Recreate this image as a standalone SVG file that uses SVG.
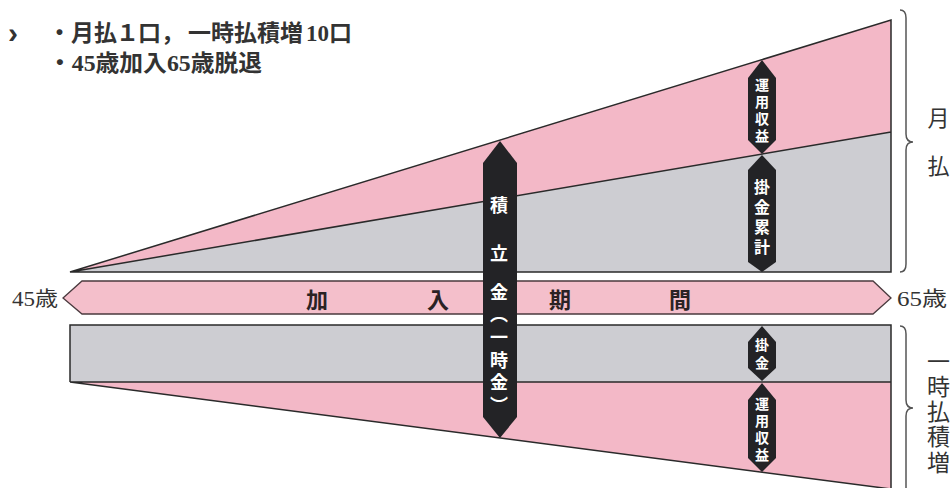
<svg xmlns="http://www.w3.org/2000/svg" width="951" height="488" viewBox="0 0 951 488">
<style>
.pink{fill:#f3b8c7}
.band{fill:#f4bfcb;stroke:#4a3a3e;stroke-width:1.3}
.gray{fill:#cdcdd2}
.edge{fill:none;stroke:#2a2a2a;stroke-width:1.5;stroke-linejoin:miter}
.bar{fill:#232326}
.bt{font-family:"Noto Sans CJK JP",sans-serif;font-weight:700;fill:#ffffff;writing-mode:vertical-rl}
.mt{font-family:"Noto Sans CJK JP",sans-serif;font-weight:700;fill:#2a2224;font-size:22px;text-anchor:middle;dominant-baseline:central}
.st{font-family:"Liberation Serif","Noto Sans CJK JP",serif;fill:#333333;dominant-baseline:central}
.vt{font-family:"Liberation Serif","Noto Sans CJK JP",serif;fill:#333333;writing-mode:vertical-rl}
.brace{fill:none;stroke:#555555;stroke-width:1.5}
</style>
<rect width="951" height="488" fill="#ffffff"/>

<g id="header">
<text class="st" x="8" y="32" style="font-family:'Liberation Sans',sans-serif;font-size:30px;font-weight:700">›</text>
<text class="st" y="33" style="font-size:23px;font-weight:700"><tspan x="48">・月払</tspan><tspan x="116">１</tspan><tspan x="138">口，</tspan><tspan x="188">一時払積増</tspan><tspan x="306">10口</tspan></text>
<text class="st" x="48" y="63" textLength="214" lengthAdjust="spacingAndGlyphs" style="font-size:23px;font-weight:700">・45歳加入65歳脱退</text>
</g>

<g id="monthly-chart">
<polygon class="pink" points="70,272 891,20 891,132"/>
<polygon class="gray" points="70,272 891,132 891,272"/>
<path class="edge" d="M70,272 L891,20 L891,272 Z M70,272 L891,132"/>
</g>

<g id="lumpsum-chart">
<rect class="gray" x="70" y="325" width="821" height="57"/>
<polygon class="pink" points="70,382 891,382 891,489"/>
<path class="edge" d="M70,382 L70,325 L891,325 L891,490 M70,382 L891,382 M70,382 L891,489"/>
</g>

<g id="period-band">
<polygon class="band" points="63,298 82,281 873,281 891,298 873,314 82,314"/>
<text class="mt" y="298"><tspan x="317">加</tspan><tspan x="438">入</tspan><tspan x="560">期</tspan><tspan x="680">間</tspan></text>
<text class="st" x="12" y="299" textLength="46" lengthAdjust="spacingAndGlyphs" style="font-size:20px">45歳</text>
<text class="st" x="897" y="299" textLength="50" lengthAdjust="spacingAndGlyphs" style="font-size:20px">65歳</text>
</g>

<g id="reserve-bar">
<polygon class="bar" points="500,141 517,163 517,417 500,438 483,417 483,163"/>
<text class="bt" x="499" y="196" style="font-size:18px">積</text>
<text class="bt" x="499" y="244" style="font-size:18px">立</text>
<text class="bt" x="499" y="283" style="font-size:18px;letter-spacing:4.6px">金（一時金）</text>
</g>

<g id="monthly-return-bar">
<polygon class="bar" points="762,60 776,78 776,140 762,154 748,140 748,78"/>
<text class="bt" x="762" y="78" style="font-size:14px;letter-spacing:3px">運用収益</text>
</g>

<g id="monthly-contrib-bar">
<polygon class="bar" points="762,155 776,170 776,262 762,272 748,262 748,170"/>
<text class="bt" x="762" y="179" style="font-size:16px;letter-spacing:4px">掛金累計</text>
</g>

<g id="lumpsum-contrib-bar">
<polygon class="bar" points="762,326 776,342 776,368 762,381 748,368 748,342"/>
<text class="bt" x="762" y="338" style="font-size:14px;letter-spacing:4px">掛金</text>
</g>

<g id="lumpsum-return-bar">
<polygon class="bar" points="762,383 776,400 776,458 762,472 748,458 748,400"/>
<text class="bt" x="762" y="397" style="font-size:14px;letter-spacing:3px">運用収益</text>
</g>

<g id="connectors">
<path class="brace" d="M900,10 Q906,10 906,18 L906,134 Q906,142 913,142 Q906,142 906,150 L906,264 Q906,272 900,272"/>
<path class="brace" d="M900,326 Q906,326 906,334 L906,400 Q906,408 913,408 Q906,408 906,416 L906,490"/>
</g>

<g id="side-labels">
<text class="vt" x="936" y="107" style="font-size:22px;letter-spacing:26px">月払</text>
<text class="vt" x="936" y="349.5" style="font-size:23px;letter-spacing:2.25px">一時払積増</text>
</g>
</svg>
